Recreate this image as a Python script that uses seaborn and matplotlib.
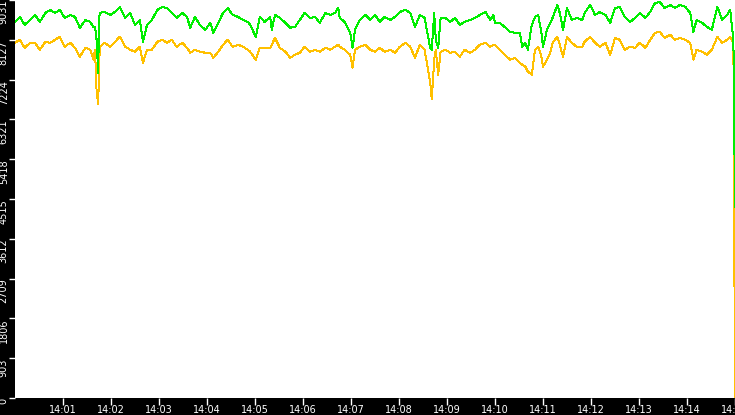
import pandas as pd
import seaborn as sns
import matplotlib
matplotlib.use("Agg")
import matplotlib.pyplot as plt
import matplotlib.dates as mdates

# sample times, seconds after 14:00:00
seconds = [0, 6, 12, 19, 25, 31, 38, 44, 50, 56, 62, 69, 75, 81, 88, 94, 98, 100,
           102, 104, 105, 106, 112, 119, 125, 131, 138, 144, 150, 156,
           160, 165, 171, 178, 184, 190, 196, 202, 209, 215, 219, 225, 231, 238, 244, 248,
           254, 260, 266, 272, 279, 285,
           291, 294, 301, 306, 312, 319, 321, 325, 331, 338, 344, 350, 356, 362, 369, 375,
           381, 388, 394, 400, 404, 406, 412, 419,
           422, 425, 431, 438, 444, 450, 456, 462, 469, 475, 481, 488, 494, 500, 506, 512,
           519, 521, 524, 526, 529, 532, 538, 544, 550, 556, 562, 569, 575, 581,
           588, 594, 598, 600, 606, 612, 619, 625, 631, 634, 638, 641, 646, 650, 654, 658,
           660, 665, 669, 672, 678, 681, 685, 690, 696, 702, 709, 712, 719, 725, 731,
           738, 744, 750, 756, 762, 769, 775, 781, 788, 794, 800, 806, 812, 819, 825, 831,
           838, 844, 848, 852, 859, 865, 871, 878, 884, 890, 894, 898, 900]

green = [8534, 8647, 8467, 8579, 8692, 8534, 8737, 8805, 8737, 8805, 8625, 8692, 8647, 8399, 8579, 8534, 8421, 8421,
         8128, 7383, 8579, 8737, 8760, 8692, 8760, 8873, 8625, 8737, 8467, 8579,
         8083, 8467, 8579, 8805, 8873, 8850, 8737, 8625, 8737, 8647, 8399, 8647, 8467, 8354, 8512, 8286,
         8512, 8737, 8850, 8692, 8647, 8579,
         8534, 8467, 8196, 8647, 8534, 8647, 8354, 8692, 8625, 8512, 8399, 8421, 8579, 8737, 8625, 8647,
         8512, 8737, 8692, 8737, 8850, 8625, 8534, 8286,
         7947, 8354, 8579, 8692, 8579, 8692, 8534, 8647, 8579, 8647, 8760, 8805, 8737, 8421, 8692, 8625,
         7947, 7902, 8737, 8128, 7947, 8625, 8625, 8534, 8625, 8467, 8534, 8579, 8625, 8692,
         8760, 8579, 8692, 8512, 8512, 8421, 8308, 8286, 8286, 7970, 8060, 7902, 8467, 8647, 8692, 8286,
         7970, 8354, 8512, 8625, 8918, 8737, 8354, 8850, 8579, 8625, 8579, 8737, 8918, 8692, 8760,
         8692, 8512, 8850, 8873, 8647, 8534, 8625, 8737, 8625, 8760, 8963, 8986, 8850, 8918, 8850, 8918,
         8873, 8737, 8308, 8579, 8512, 8421, 8354, 8873, 8579, 8692, 8805, 8128, 4334]

amber = [8060, 8128, 7947, 8060, 8060, 7902, 8083, 8060, 8128, 8196, 7970, 8060, 7947, 7744, 7947, 7902, 7676, 7902,
         6954, 6660, 7450, 7970, 8060, 7970, 8083, 8196, 7970, 7902, 7857, 7970,
         7609, 7902, 7902, 8083, 8128, 8060, 8128, 7970, 8060, 7947, 7834, 7902, 7857, 7834, 7834, 7721,
         7857, 8015, 8128, 7970, 8015, 7970,
         7902, 7857, 7676, 7947, 7947, 7947, 8015, 8173, 7947, 7857, 7721, 7789, 7834, 7970, 7857, 7902,
         7857, 7947, 7902, 7970, 8015, 7970, 7902, 7789,
         7496, 7902, 7970, 8015, 7902, 7857, 7947, 7857, 7902, 7834, 7970, 8060, 7970, 7721, 8015, 7902,
         7157, 6773, 7676, 7902, 7338, 7857, 7902, 7834, 7857, 7744, 7902, 7834, 7902, 8015,
         8060, 7970, 8015, 8015, 7902, 7789, 7676, 7721, 7609, 7563, 7518, 7405, 7338, 7902, 7970, 7744,
         7518, 7676, 7834, 8060, 8196, 8015, 7744, 8196, 8060, 7970, 7970, 8083, 8196, 8060, 7970,
         8060, 7789, 8173, 8128, 7902, 7970, 7947, 8060, 7947, 8128, 8286, 8308, 8173, 8241, 8128, 8173,
         8128, 8060, 7676, 7902, 7857, 7789, 7902, 8196, 8060, 8128, 8196, 8060, 0]

y_ticks = [0, 903, 1806, 2709, 3612, 4515, 5418, 6321, 7224, 8127, 9031]

start = pd.Timestamp("2024-01-01 14:00:00")
times = start + pd.to_timedelta(seconds, unit="s")
n = len(seconds)
df = pd.DataFrame({
    "time": list(times) * 2,
    "value": amber + green,
    "series": ["amber"] * n + ["green"] * n,
})

fig = plt.figure(figsize=(7.35, 4.15), dpi=100, facecolor="black")
ax = fig.add_axes([15 / 735, 17 / 415, 720 / 735, 398 / 415])
ax.set_facecolor("white")

sns.lineplot(data=df, x="time", y="value", hue="series",
             hue_order=["amber", "green"],
             palette={"amber": "#ffc000", "green": "#00ee00"},
             estimator=None, linewidth=0.72, antialiased=False,
             legend=False, ax=ax)

ax.set_xlim(start, start + pd.Timedelta(minutes=15))
ax.set_ylim(0, 9031)
ax.set_xticks(pd.date_range(start + pd.Timedelta(minutes=1),
                            start + pd.Timedelta(minutes=15), freq="min"))
ax.xaxis.set_major_formatter(mdates.DateFormatter("%H:%M"))
ax.set_yticks(y_ticks)
ax.set_yticklabels([str(v) for v in y_ticks], rotation=90, va="top",
                   family=["Liberation Sans Narrow", "DejaVu Sans"], fontsize=7)
ax.set_xlabel("")
ax.set_ylabel("")
ax.tick_params(axis="x", colors="white", length=5, width=1, pad=0, labelsize=7)
ax.tick_params(axis="y", colors="white", length=4, width=1, pad=0.5)
for s in ax.spines.values():
    s.set_visible(False)

fig.savefig("out.png", dpi=100, facecolor="black")
